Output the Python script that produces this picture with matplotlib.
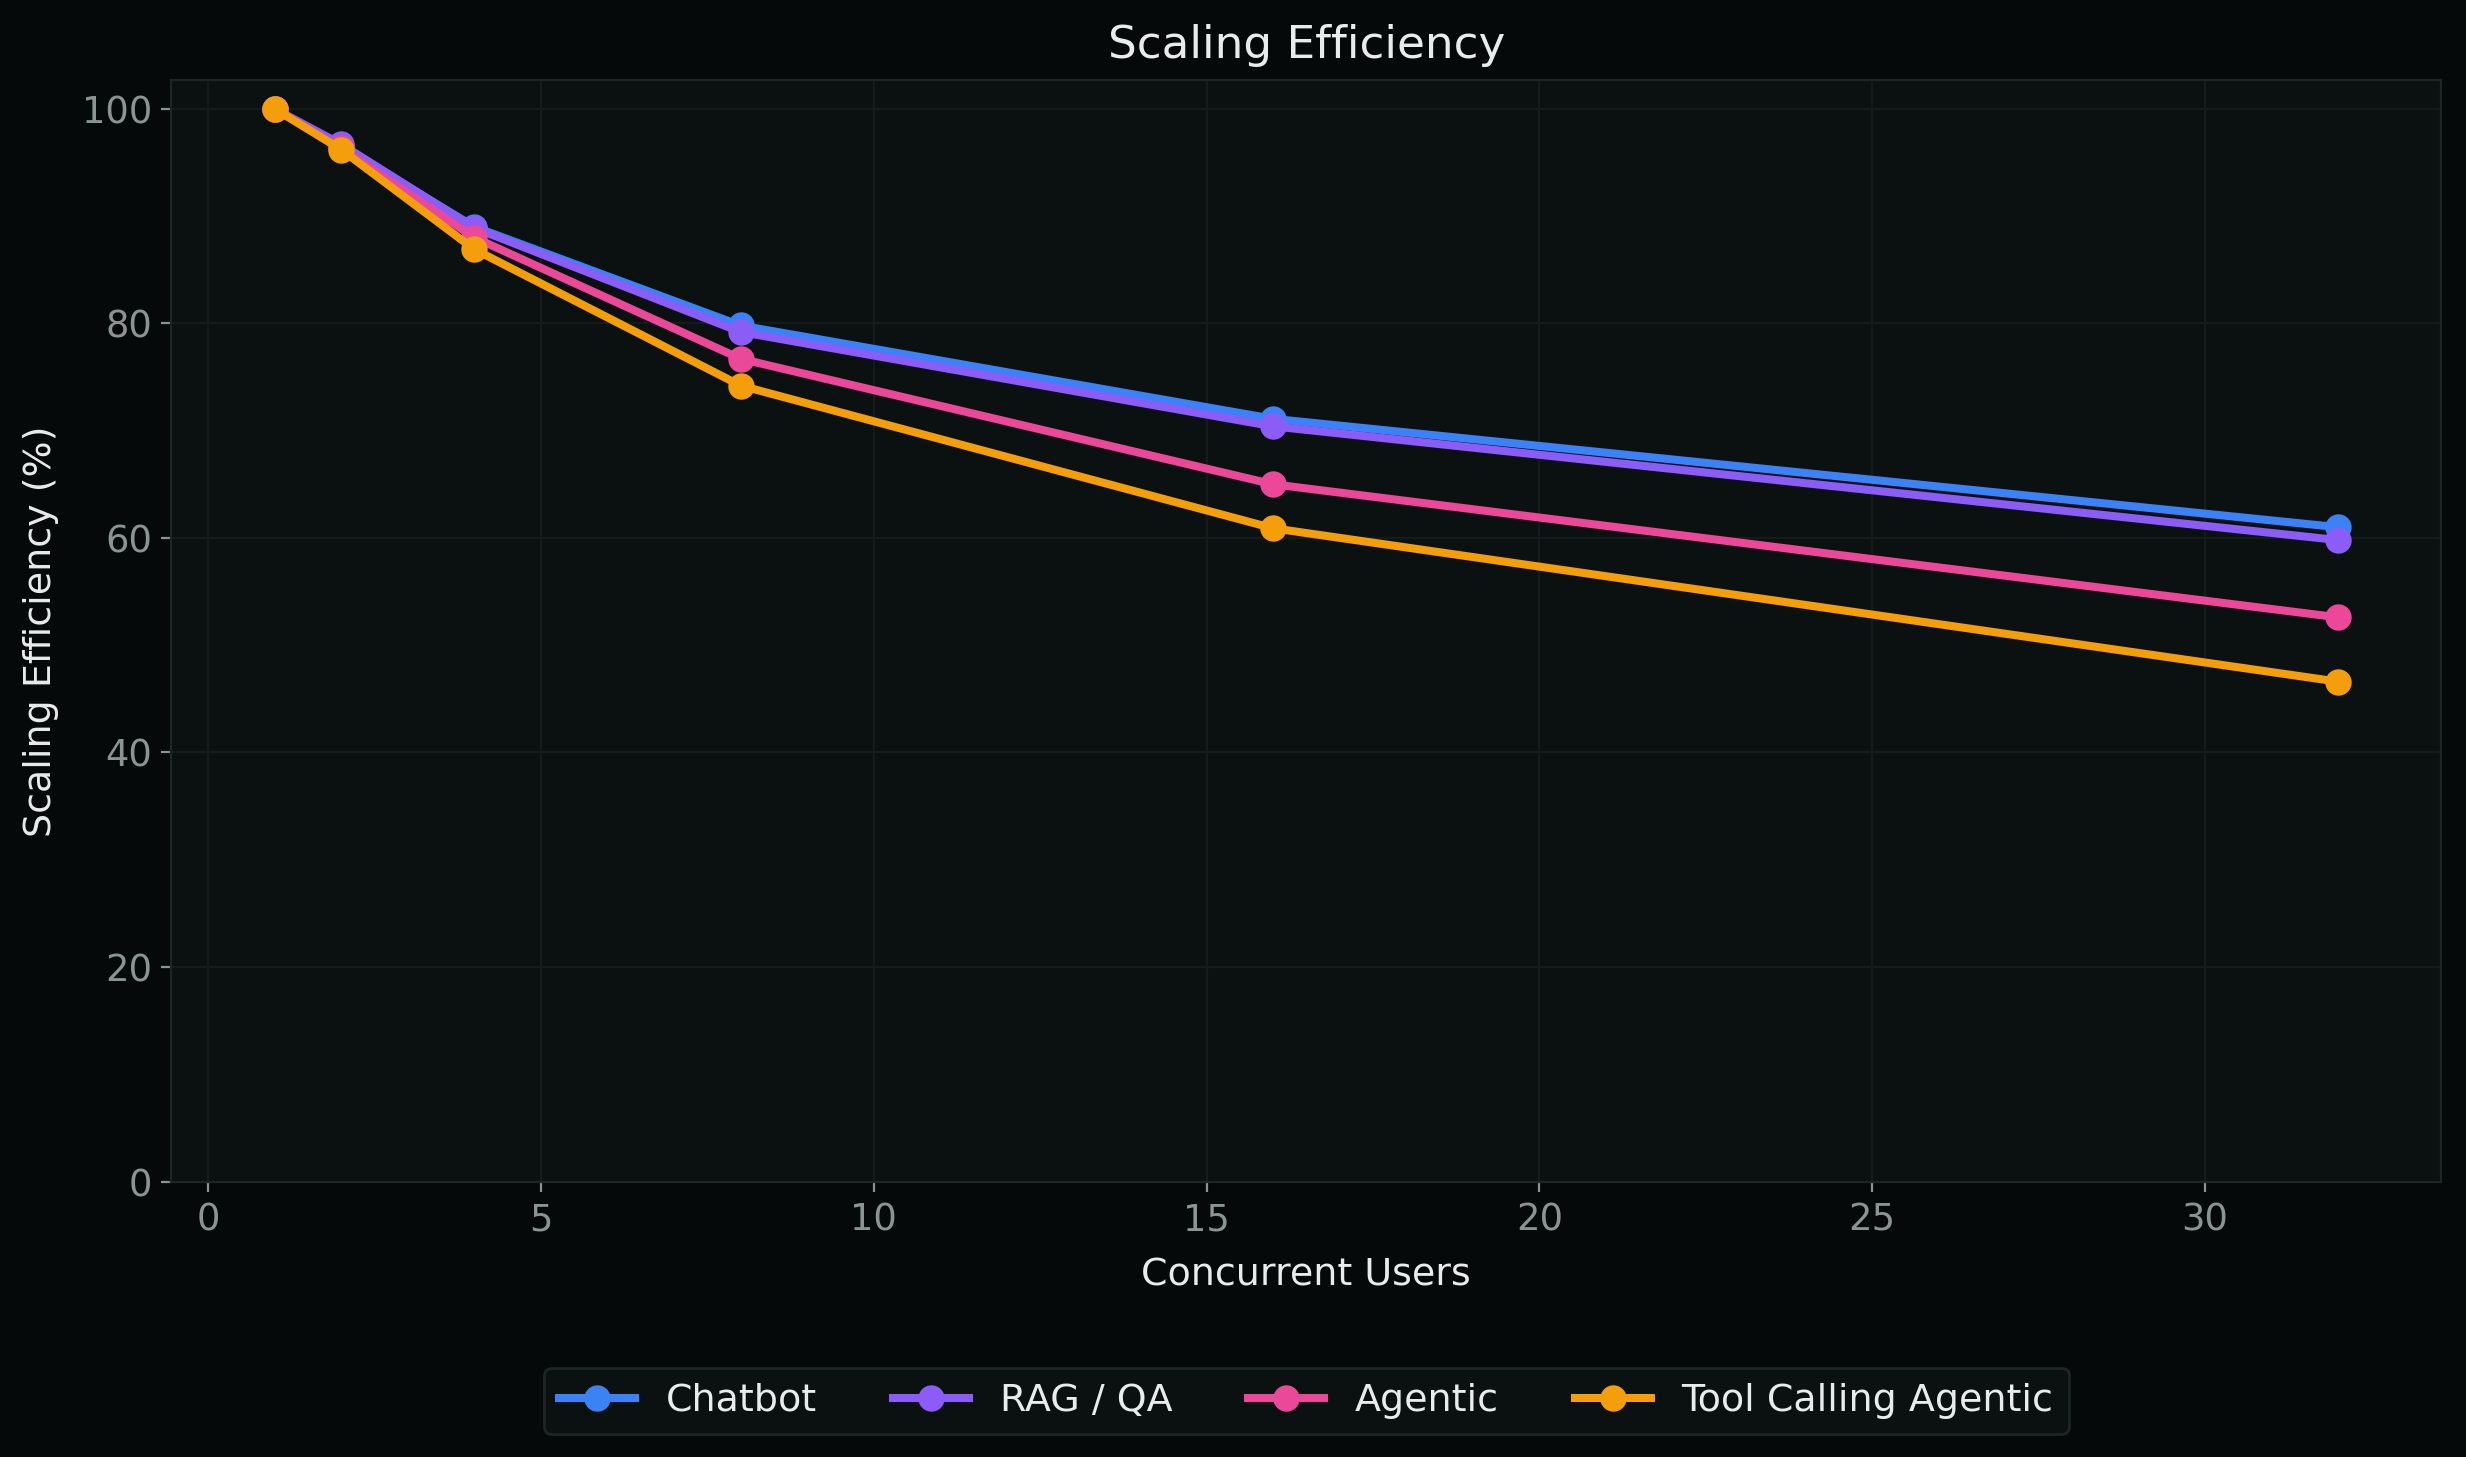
import matplotlib
matplotlib.use('Agg')
import matplotlib.pyplot as plt

# Datos
usuarios = [1, 2, 4, 8, 16, 32]
chatbot = [100, 96.5, 89.0, 79.8, 71.1, 61.0]
rag_qa = [100, 96.7, 88.9, 79.2, 70.4, 59.8]
agentic = [100, 96.3, 88.0, 76.7, 65.0, 52.6]
tool_calling = [100, 96.2, 86.9, 74.2, 60.9, 46.6]

series = [
    ('Chatbot', chatbot, '#3b82f6'),
    ('RAG / QA', rag_qa, '#8b5cf6'),
    ('Agentic', agentic, '#ec4899'),
    ('Tool Calling Agentic', tool_calling, '#f59e0b'),
]

bg = '#050909'
panel = '#0a1110'
borde = '#1d2623'
gris = '#8a9591'
blanco = '#e8ecea'

fig = plt.figure(figsize=(12.33, 7.285), dpi=200, facecolor=bg)
ax = fig.add_axes([0.0695, 0.189, 0.9205, 0.756])
ax.set_facecolor(panel)

for nombre, valores, color in series:
    ax.plot(usuarios, valores, label=nombre, color=color, linewidth=2.9,
            marker='o', markersize=8.5)

ax.set_ylim(bottom=0)
ax.set_title('Scaling Efficiency', color=blanco, fontsize=16.3, pad=8)
ax.set_xlabel('Concurrent Users', color=blanco, fontsize=13.7, labelpad=7)
ax.set_ylabel('Scaling Efficiency (%)', color=blanco, fontsize=13.7, labelpad=8)
ax.tick_params(colors=gris, labelsize=13.3)
for spine in ax.spines.values():
    spine.set_color(borde)
ax.grid(True, color='#141c1a', linewidth=0.8)

# leyenda centrada bajo el eje
leg = ax.legend(loc='center', bbox_to_anchor=(0.5, -0.199), ncol=4,
                fontsize=13.7, facecolor=panel, edgecolor=borde,
                labelcolor=blanco, framealpha=1)

fig.savefig('out.png', dpi=200, facecolor=bg)
